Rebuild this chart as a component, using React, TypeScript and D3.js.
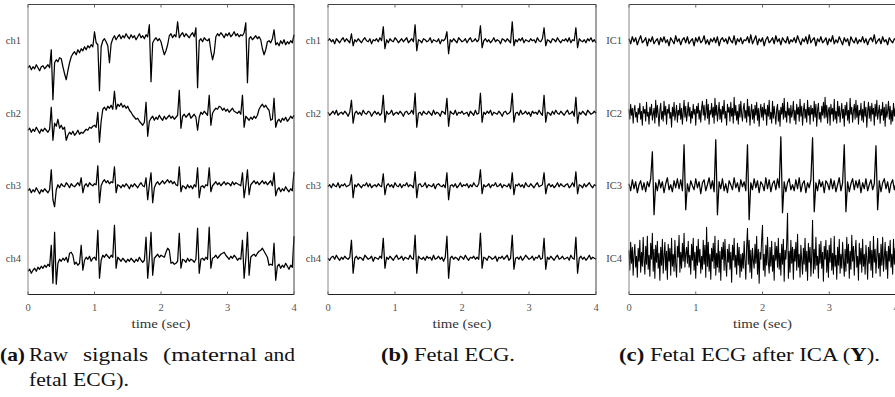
import React from 'react';
import * as d3 from 'd3';

// every series spans the same 4-second record
const DURATION = 4;
const TIME_TICKS = [0, 1, 2, 3, 4];
const RAW_LABELS = ['ch1', 'ch2', 'ch3', 'ch4'];
const FETAL_LABELS = ['ch1', 'ch2', 'ch3', 'ch4'];
const ICA_LABELS = ['IC1', 'IC2', 'IC3', 'IC4'];

// (a) raw signals
const rawCh1 = [
  -27,-25,-29,-26,-28,-24,-27,-30,-26,-25,
  -28,-26,-24,-27,-9,-59,-22,-19,-21,-17,
  -18,-26,-33,-39,-30,-22,-16,-13,-11,-14,
  -9,-12,-8,-10,-6,-9,-5,-7,-4,-6,
  9,-2,-4,-50,-6,0,2,-1,-5,-22,
  -3,2,5,1,4,6,2,5,3,7,
  4,2,6,3,5,1,4,7,3,5,
  2,6,4,16,-41,-2,1,3,0,2,
  -1,-8,-14,-10,-4,5,7,3,6,4,
  19,3,6,8,4,7,5,3,6,8,
  4,13,-47,0,2,-1,3,1,0,2,
  -10,-19,-12,4,7,5,8,6,3,7,
  5,8,4,6,9,5,7,4,6,5,
  8,18,-42,2,4,1,3,5,2,4,
  1,-8,-14,-9,-1,0,-2,2,11,-4,
  -2,-5,0,-3,1,-4,-1,-3,0,-2,
  6,
];
const rawCh2 = [
  -17,-15,-19,-16,-18,-14,-17,-20,-16,-18,
  -15,-17,-19,-16,6,-27,-10,-13,-6,-15,
  -12,-16,-14,-27,-22,-19,-21,-18,-22,-20,
  -17,-21,-19,-20,-18,-16,-17,-14,-15,-13,
  -12,-14,1,-29,-8,4,6,3,7,5,
  8,4,22,4,9,7,10,6,8,5,
  7,3,1,-2,-4,-6,-5,-8,-10,-12,
  -9,11,-23,-8,-5,-3,-7,-4,-6,-2,
  -5,-7,-3,-6,-4,-2,-5,-3,-6,-4,
  -2,23,-15,-3,-1,-4,-2,0,-5,-3,
  -1,-4,-17,-4,1,-1,2,0,-2,18,
  -12,0,3,5,4,7,6,3,5,2,
  4,1,3,5,2,1,0,2,-1,18,
  -14,-3,-5,-7,-4,-6,-3,-5,-2,4,
  7,9,6,8,5,3,-7,-6,15,-14,
  -8,-6,-9,-5,-7,-4,-8,-6,-3,-5,
  -2,
];
const rawCh3 = [
  -5,-3,-7,-4,-6,-2,-5,-8,-4,-6,
  -3,-5,-7,-4,16,-14,-21,-4,1,-2,
  2,0,-1,3,1,-2,2,0,-1,1,
  3,0,8,-7,0,2,-1,3,1,0,
  2,1,20,-17,0,4,6,3,5,2,
  4,3,19,-7,1,0,-2,1,-1,2,
  0,-3,1,-1,2,0,-2,1,3,0,
  -1,8,-14,1,13,-17,-2,2,4,1,
  3,5,2,4,6,3,5,2,4,1,
  0,19,-6,0,-1,-3,1,-2,0,-3,
  1,-1,18,-12,-1,0,-2,1,0,18,
  -6,0,2,4,1,3,0,2,4,1,
  3,2,0,4,1,3,2,1,0,13,
  -12,0,16,-9,1,3,5,2,4,1,
  3,5,2,4,1,3,5,0,13,-10,
  -4,-2,-6,-3,-5,-1,-4,-6,-3,-5,
  14,
];
const rawCh4 = [
  -13,-11,-15,-12,-10,-13,-9,-11,-8,-10,
  -7,-9,-6,-8,13,-25,26,-26,-5,-1,
  -3,0,-2,1,-4,5,6,3,-6,-4,
  -7,-5,13,-12,-2,1,-1,2,-3,0,
  1,-2,28,-20,-2,3,1,4,2,0,
  3,1,33,-10,1,-1,-3,0,-2,-4,
  -1,-3,0,-2,-4,-1,-3,1,-2,-4,
  -2,21,-20,0,26,-17,0,2,4,1,
  3,2,1,6,10,8,-5,-4,-6,-5,
  -3,25,-10,-1,-2,-4,0,-3,-1,-2,
  -4,-1,30,-15,-1,0,-2,1,-1,31,
  -10,0,1,3,0,2,4,5,6,3,
  1,-1,2,0,3,1,-2,0,-1,18,
  -20,-1,26,-17,1,3,4,2,5,7,
  8,10,7,4,1,-7,-6,-7,15,-22,
  -8,-6,-10,-7,-9,-5,-8,-11,-7,-9,
  22,
];

// (b) fetal ECG
const fetalCh1 = [
  0,2,-1,1,-3,2,0,-2,1,3,
  -1,2,0,-2,7,-5,1,-1,2,0,
  -2,1,3,0,-1,2,-3,1,0,2,
  -1,3,0,14,-8,1,-2,2,0,-1,
  3,1,-2,0,2,-1,1,3,-2,0,
  2,-1,16,-10,1,0,-2,2,1,-1,
  0,3,-2,1,0,-1,2,-3,1,0,
  2,9,-13,1,-1,2,0,-2,3,1,
  -1,0,2,-2,1,3,-1,0,2,-1,
  1,15,-7,0,2,-1,1,-2,0,3,
  -1,1,0,-3,2,1,-1,2,0,-2,
  19,-5,1,-1,2,0,3,-2,1,0,
  -1,2,0,1,-2,3,0,-1,2,13,
  -5,1,0,-2,2,1,-1,3,0,-2,
  1,0,2,-1,3,-2,1,0,13,-7,
  2,0,-1,1,-2,2,0,3,-1,1,
  -2,
];
const fetalCh2 = [
  1,-2,0,2,-1,3,-2,0,1,-1,
  2,0,-3,1,13,-10,0,2,-1,1,
  -2,3,0,-1,2,1,-3,0,2,-1,
  1,-2,0,18,-9,2,-1,0,3,-2,
  0,1,-1,2,0,-3,1,2,-1,0,
  3,-1,20,-14,0,1,-2,2,0,-1,
  2,0,-2,3,-1,1,0,-3,2,1,
  -1,15,-13,2,0,-1,3,-2,1,0,
  2,-1,0,1,-3,2,0,-2,3,-1,
  0,20,-9,1,-1,2,0,3,-2,1,
  0,-1,2,0,-3,1,2,-1,0,2,
  20,-9,0,1,-2,3,-1,0,2,-1,
  1,-3,2,0,1,-1,3,0,-2,18,
  -9,1,0,-2,2,-1,3,0,-1,2,
  0,-2,1,3,-1,0,2,-3,16,-10,
  1,-1,2,0,-2,3,1,-1,0,2,
  0,
];
const fetalCh3 = [
  -1,1,-2,2,0,-1,3,-2,1,0,
  2,-1,0,1,11,-12,1,-1,2,0,
  -2,1,0,3,-1,2,-2,0,1,-1,
  2,0,-1,12,-9,0,2,-1,1,-2,
  3,0,-1,2,-2,1,0,3,-1,1,
  0,-2,14,-12,1,2,-1,0,3,-2,
  1,0,-1,2,-3,1,2,0,-1,1,
  -2,13,-14,0,1,-1,2,-2,0,3,
  -1,1,0,2,-2,1,-1,3,0,-1,
  2,16,-8,1,-1,0,2,-2,1,0,
  3,-1,0,2,-2,1,0,-1,2,-3,
  13,-9,1,0,2,-1,1,-2,3,0,
  -1,2,0,-2,1,3,-1,0,1,13,
  -8,0,2,-1,1,-2,0,3,-1,2,
  0,-1,1,2,-2,0,3,-1,14,-8,
  1,0,-2,2,-1,1,3,0,-2,1,
  0,
];
const fetalCh4 = [
  0,-2,1,2,-1,3,0,-2,1,-1,
  2,0,-1,1,18,-15,0,2,-1,1,
  0,-2,3,1,-1,0,2,-3,1,0,
  -1,2,0,20,-10,1,-1,2,0,-2,
  1,3,-1,0,2,-2,1,0,-1,3,
  0,-1,23,-15,2,0,-1,1,-2,2,
  0,1,-2,3,-1,0,2,-1,1,-3,
  1,22,-20,0,2,-1,1,0,-2,2,
  1,-1,3,0,-2,1,0,2,-1,1,
  -1,25,-10,1,0,-2,2,1,-1,0,
  2,-3,1,0,2,-1,1,3,-2,0,
  23,-11,0,1,-1,2,-2,0,3,1,
  -1,0,2,-2,1,0,3,-1,0,20,
  -11,1,-1,2,0,-2,1,3,-1,0,
  2,-1,0,1,-2,3,0,-1,21,-15,
  0,2,-1,1,-2,0,3,-1,1,0,
  -1,
];

// (c) after ICA
const icaIc1 = [
  2,-3,4,-1,3,-4,1,5,-2,0,
  3,-5,2,-1,4,-3,0,2,-4,3,
  -1,4,-2,1,-5,3,0,-3,5,-1,
  2,-4,1,3,-2,4,-3,0,2,-5,
  3,-1,4,-2,0,5,-3,1,-4,2,
  -1,3,-2,4,-5,1,3,-1,2,-3,
  4,0,-2,5,-4,2,-1,3,-3,1,
  0,4,-2,6,-3,1,5,-4,2,-1,
  3,-5,1,4,-2,0,3,-3,5,-1,
  2,-4,3,0,-2,4,-3,1,-1,3,
  -2,5,0,-4,2,-1,4,-3,6,-2,
  1,3,-5,2,-1,4,-2,0,3,-4,
  2,-1,5,-3,1,-2,4,0,-4,3,
  -1,2,-5,4,0,-2,3,-3,1,-1,
  4,-2,2,-4,1,3,-1,6,-3,0,
  2,-3,4,-1,1,-4,3,0,-2,2,
  1,
];
const icaIc2 = [
  4,-6,9,-2,5,-10,3,8,-4,1,
  -9,5,-1,10,-6,2,-12,7,0,4,
  -8,11,-3,1,-11,6,-2,9,-7,-1,
  5,-10,13,-4,8,-1,-13,3,10,-6,
  2,-8,12,-2,7,-11,4,0,9,-5,
  1,-14,6,-3,11,-7,0,8,-9,3,
  -2,10,-6,5,-11,1,13,-4,7,-8,
  0,11,-3,6,-10,2,-5,9,-1,4,
  -12,7,0,10,-6,3,-9,5,12,-2,
  8,-7,1,14,-5,9,-11,3,-1,10,
  -4,6,-10,15,-2,8,-8,1,11,-6,
  4,-9,7,-1,13,-5,2,-12,9,1,
  6,-8,11,-3,5,-10,16,-2,8,-7,
  2,-11,9,-4,12,-1,-8,5,10,-5,
  3,-9,14,-3,7,-12,1,9,-6,4,
  -10,8,-2,11,-7,5,-13,2,9,-4,
  6,-7,10,-1,4,-12,8,-3,13,-6,
  1,-10,12,-5,7,-2,-11,4,9,-8,
  3,-13,6,-1,10,-6,15,-4,2,-9,
  11,-2,5,-10,8,-4,1,12,-7,3,
  -11,9,-1,6,-8,14,-3,7,-12,2,
  10,-5,4,-9,13,-2,6,-11,8,-1,
  5,-8,12,-4,9,-13,3,10,-6,1,
  -9,7,-2,11,-5,16,-4,8,-10,3,
  6,-12,9,-1,5,-8,14,-6,2,-10,
  12,-3,7,-9,1,10,-5,4,-13,8,
  -2,11,-7,3,-10,15,-1,6,-9,2,
  9,-6,13,-4,8,-11,3,-2,10,-7,
  4,-9,12,-3,6,-14,2,11,-5,7,
  -8,10,-1,5,-12,9,-3,13,-6,1,
  8,-10,4,-2,11,-7,6,-13,9,-4,
  2,12,-6,7,-11,3,-8,10,-3,5,
  -1,
];
const icaIc3 = [
  2,-5,6,-3,4,-7,1,5,-4,3,
  -6,4,-1,7,34,-29,3,-5,6,-2,
  4,-7,2,8,-4,1,-6,5,-2,7,
  -3,6,-5,41,-24,2,-6,5,0,-4,
  7,-2,4,-8,3,6,-5,1,8,-3,
  5,-6,46,-29,4,-3,7,-5,2,-7,
  5,1,-4,8,-2,3,-6,6,-1,4,
  -5,41,-34,3,-4,7,-2,5,-7,4,
  1,-5,8,-3,6,-6,2,5,-4,7,
  -2,49,-27,4,-6,3,7,-4,1,-5,
  6,-3,8,-6,2,5,-7,3,-2,6,
  48,-26,3,-5,6,-1,4,-7,5,2,
  -4,7,-3,5,-6,1,8,-5,3,41,
  -26,4,-6,2,7,-4,5,-2,6,-7,
  3,-3,7,-5,1,6,-4,2,40,-24,
  5,-6,3,7,-3,4,-7,2,6,-4,
  3,
];
const icaIc4 = [
  8,-12,16,-5,11,-17,4,14,-9,2,
  -19,10,-3,18,-14,6,-8,21,-2,-16,
  12,-6,22,-11,3,-18,15,-1,25,-13,
  9,-20,13,-4,17,-10,5,-22,11,-7,
  19,-15,2,16,-12,7,-21,14,-3,10,
  -17,20,-8,4,-13,18,-6,-19,12,1,
  23,-14,6,-10,15,-3,25,-9,4,11,
  -5,17,-9,3,-16,14,-2,20,-12,6,
  -20,12,-7,19,-4,9,-15,2,-11,18,
  -6,13,-19,31,-8,16,-13,4,-21,10,
  -3,15,-10,22,-17,5,-9,18,-14,7,
  -22,11,-1,16,-12,19,-6,-18,9,-4,
  14,-11,6,-24,13,-2,20,-9,3,-16,
  15,-7,11,-19,4,-13,5,-10,17,-3,
  -21,12,30,-6,18,-14,8,-20,10,-2,
  -10,14,-5,22,-16,9,-25,6,-1,19,
  33,-12,4,-18,13,-7,21,-4,-15,11,
  -8,17,-13,3,-22,16,-2,12,-9,20,
  -11,5,-17,14,-6,19,-23,8,-1,15,
  45,-20,7,-14,18,-5,11,-21,9,-3,
  16,-12,24,-9,4,-19,13,-2,-16,10,
  -6,20,-13,7,-22,15,-4,11,-18,3,
  38,-15,9,-11,21,-7,2,-20,14,-5,
  17,-10,6,-23,12,-1,18,-14,8,-19,
  13,-4,20,-12,5,-16,22,-8,3,-21,
  11,-7,19,-15,4,-10,16,-2,-18,9,
  -13,21,-5,14,-20,7,-11,23,-3,12,
  -17,6,18,-9,2,-22,15,-6,10,-14,
  19,-8,4,-16,13,-1,-21,11,-5,17,
  -12,8,-19,22,-4,9,-15,3,20,-10,
  5,-18,14,-7,21,-13,1,16,-11,7,
  -20,12,-3,18,-9,4,-16,19,-6,10,
  -8,
];

const TOP = 4.5;
const BOTTOM = 294.5;
const SERIF = '"Liberation Serif", "Times New Roman", serif';

type PanelProps = { x0: number; x1: number; labels: string[]; series: number[][] };

function Panel({ x0, x1, labels, series }: PanelProps) {
  const x = d3.scaleLinear().domain([0, DURATION]).range([x0, x1]);
  const rows = d3.scalePoint<string>().domain(labels).range([TOP, BOTTOM]).padding(0.5);
  const amp = d3.scaleLinear().domain([-36, 36]).range([36, -36]);
  return (
    <g>
      {series.map((s, k) => {
        const cy = rows(labels[k]) as number;
        const dt = DURATION / (s.length - 1);
        const line = d3
          .line<number>()
          .x((_, i) => x(i * dt))
          .y((d) => cy + amp(d));
        return (
          <g key={k}>
            <path
              d={line(s) || ''}
              fill="none"
              stroke="#000"
              strokeWidth={s.length > 200 ? 1.05 : 1.25}
              strokeLinejoin="round"
            />
            <text x={x0 - 7} y={cy + 3.5} textAnchor="end" style={{ fontFamily: SERIF }} fontSize={10.5} fill="#444">
              {labels[k]}
            </text>
          </g>
        );
      })}
      <line x1={x0} x2={x1} y1={TOP} y2={TOP} stroke="#444" strokeWidth={1} />
      <line x1={x1} x2={x1} y1={TOP} y2={BOTTOM} stroke="#444" strokeWidth={1} />
      <line x1={x0} x2={x1} y1={BOTTOM} y2={BOTTOM} stroke="#222" strokeWidth={1} />
      <line x1={x0} x2={x0} y1={TOP} y2={BOTTOM} stroke="#888" strokeWidth={1} />
      {TIME_TICKS.map((t) => (
        <g key={t}>
          <line x1={x(t)} x2={x(t)} y1={BOTTOM} y2={BOTTOM - 3} stroke="#666" />
          <line x1={x(t)} x2={x(t)} y1={TOP} y2={TOP + 3} stroke="#666" />
          <text x={x(t)} y={310.5} textAnchor="middle" style={{ fontFamily: SERIF }} fontSize={10.5} fill="#555">
            {t}
          </text>
        </g>
      ))}
      <text
        x={(x0 + x1) / 2}
        y={327.5}
        textAnchor="middle"
        style={{ fontFamily: SERIF }}
        fontSize={13}
        fill="#333"
        textLength={59}
        lengthAdjust="spacingAndGlyphs"
      >
        time (sec)
      </text>
    </g>
  );
}

export default function App() {
  return (
    <div style={{ position: 'fixed', left: 0, top: 0 }}>
      <svg width={895} height={397} style={{ display: 'block', background: '#fff' }}>
        <Panel x0={28} x1={294} labels={RAW_LABELS} series={[rawCh1, rawCh2, rawCh3, rawCh4]} />
        <Panel x0={328} x1={596} labels={FETAL_LABELS} series={[fetalCh1, fetalCh2, fetalCh3, fetalCh4]} />
        <Panel x0={629} x1={896} labels={ICA_LABELS} series={[icaIc1, icaIc2, icaIc3, icaIc4]} />

        <g style={{ fontFamily: SERIF }} fontSize={19.5} fill="#111">
          <text x={0} y={361} fontWeight="bold" textLength={25} lengthAdjust="spacingAndGlyphs">(a)</text>
          <text x={29} y={361} textLength={39} lengthAdjust="spacingAndGlyphs">Raw</text>
          <text x={83} y={361} textLength={65} lengthAdjust="spacingAndGlyphs">signals</text>
          <text x={163} y={361} textLength={94} lengthAdjust="spacingAndGlyphs">(maternal</text>
          <text x={264} y={361} textLength={31} lengthAdjust="spacingAndGlyphs">and</text>
          <text x={29} y={386} textLength={100} lengthAdjust="spacingAndGlyphs">fetal ECG).</text>

          <text x={381} y={361} textLength={134} lengthAdjust="spacingAndGlyphs">
            <tspan fontWeight="bold">(b)</tspan> Fetal ECG.
          </text>

          <text x={619} y={361} textLength={261} lengthAdjust="spacingAndGlyphs">
            <tspan fontWeight="bold">(c)</tspan> Fetal ECG after ICA (<tspan fontWeight="bold">Y</tspan>).
          </text>
        </g>
      </svg>
    </div>
  );
}
